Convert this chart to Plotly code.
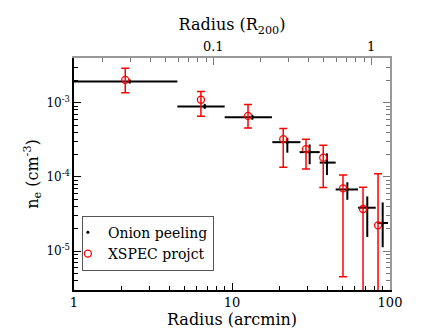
import numpy as np
import plotly.graph_objects as go

# radius in arcmin, density in cm^-3
onion_r = [2.25, 6.72, 13.45, 22.4, 31.0, 39.9, 53.7, 71.8, 89.9]
onion_r_lo = [1.0, 4.51, 8.99, 18.0, 26.8, 35.9, 45.3, 62.7, 83.1]
onion_r_hi = [4.51, 8.99, 17.9, 27.1, 35.9, 45.3, 62.7, 81.2, 97.1]
onion_ne = [1.93e-3, 8.92e-4, 6.36e-4, 2.94e-4, 2.16e-4, 1.56e-4, 6.78e-5, 3.85e-5, 2.40e-5]
onion_ne_lo = [1.81e-3, 8.26e-4, 5.89e-4, 2.12e-4, 1.48e-4, 1.06e-4, 4.92e-5, 1.55e-5, 1.13e-5]
onion_ne_hi = [2.06e-3, 9.63e-4, 6.87e-4, 3.37e-4, 2.74e-4, 2.08e-4, 8.49e-5, 5.47e-5, 4.54e-5]

xspec_r = [2.11, 6.36, 12.63, 21.1, 29.4, 37.8, 50.4, 67.5, 84.0]
xspec_ne = [2.03e-3, 1.097e-3, 6.64e-4, 3.23e-4, 2.37e-4, 1.82e-4, 7.0e-5, 3.70e-5, 2.23e-5]
xspec_ne_lo = [1.36e-3, 6.56e-4, 4.58e-4, 1.35e-4, 1.28e-4, 7.21e-5, 4.54e-6, 1e-9, 1e-9]
xspec_ne_hi = [2.92e-3, 1.42e-3, 9.49e-4, 4.49e-4, 3.23e-4, 2.68e-4, 1.06e-4, 7.28e-5, 1.10e-4]

R200_ARCMIN = 76.1

FONT = "DejaVu Serif"

o_r = np.array(onion_r)
o_n = np.array(onion_ne)
x_n = np.array(xspec_ne)

fig = go.Figure()

fig.add_trace(go.Scatter(
    x=onion_r, y=onion_ne, mode="markers", name="Onion peeling",
    marker=dict(color="black", size=3, symbol="circle"),
    error_x=dict(type="data", symmetric=False,
                 array=np.array(onion_r_hi) - o_r, arrayminus=o_r - np.array(onion_r_lo),
                 color="black", thickness=2, width=0),
    error_y=dict(type="data", symmetric=False,
                 array=np.array(onion_ne_hi) - o_n, arrayminus=o_n - np.array(onion_ne_lo),
                 color="black", thickness=2, width=0),
))

fig.add_trace(go.Scatter(
    x=xspec_r, y=xspec_ne, mode="markers", name="XSPEC projct",
    marker=dict(color="red", size=7, symbol="circle-open",
                line=dict(color="red", width=1.3)),
    error_y=dict(type="data", symmetric=False,
                 array=np.array(xspec_ne_hi) - x_n, arrayminus=x_n - np.array(xspec_ne_lo),
                 color="red", thickness=1.5, width=4),
))

# invisible trace so that the top (R200) axis is drawn
fig.add_trace(go.Scatter(
    x=list(o_r / R200_ARCMIN), y=onion_ne, xaxis="x2", mode="markers",
    marker=dict(opacity=0), showlegend=False, hoverinfo="skip",
))

# invisible trace for the right axis
fig.add_trace(go.Scatter(
    x=onion_r, y=onion_ne, yaxis="y2", mode="markers",
    marker=dict(opacity=0), showlegend=False, hoverinfo="skip",
))

minor_x = [m * 10 ** d for d in range(0, 2) for m in range(2, 10)]
minor_top = [m * 10 ** d for d in range(-2, 1) for m in range(2, 10)]
minor_y = [m * 10 ** d for d in range(-6, -2) for m in range(2, 10)]

yticks = [1e-5, 1e-4, 1e-3]
ytext = ["10<sup>-5</sup>", "10<sup>-4</sup>", "10<sup>-3</sup>"]

fig.update_layout(
    width=430, height=332,
    margin=dict(l=66, r=48, t=50, b=50),
    paper_bgcolor="white", plot_bgcolor="white",
    font=dict(family=FONT, color="black", size=13),
    showlegend=True,
    legend=dict(x=0.025, y=0.32, xanchor="left", yanchor="top",
                bordercolor="#555", borderwidth=1, bgcolor="white",
                font=dict(size=14, family=FONT), itemwidth=30,
                indentation=-15, tracegroupgap=0),
    xaxis=dict(type="log", range=[0, 2], showgrid=False, zeroline=False,
               showline=True, linecolor="black", linewidth=1.5,
               ticks="inside", ticklen=7, tickcolor="black",
               tickvals=[1, 10, 100], ticktext=["1", "10", "100"],
               tickfont=dict(size=13),
               minor=dict(tickvals=minor_x, ticks="inside", ticklen=4, tickcolor="black"),
               title=dict(text="Radius (arcmin)", font=dict(size=16), standoff=2)),
    xaxis2=dict(type="log", overlaying="x", side="top", anchor="y",
                range=[np.log10(1 / R200_ARCMIN), np.log10(100 / R200_ARCMIN)],
                showgrid=False, zeroline=False,
                showline=True, linecolor="#999", linewidth=1.5,
                ticks="inside", ticklen=7, tickcolor="#777",
                tickvals=[0.1, 1], ticktext=["0.1", "1"], tickfont=dict(size=13),
                minor=dict(tickvals=minor_top, ticks="inside", ticklen=4, tickcolor="#777"),
                title=dict(text="Radius (R<sub>200</sub>)", font=dict(size=16), standoff=4)),
    yaxis=dict(type="log", range=[np.log10(3e-6), np.log10(4e-3)],
               showgrid=False, zeroline=False,
               showline=True, linecolor="black", linewidth=1.5,
               ticks="inside", ticklen=7, tickcolor="black",
               tickvals=yticks, ticktext=ytext, tickfont=dict(size=12),
               minor=dict(tickvals=minor_y, ticks="inside", ticklen=4, tickcolor="black"),
               title=dict(text="n<sub>e</sub> (cm<sup>-3</sup>)", font=dict(size=16), standoff=4)),
    yaxis2=dict(type="log", overlaying="y", side="right", anchor="x",
                range=[np.log10(3e-6), np.log10(4e-3)],
                showgrid=False, zeroline=False,
                showline=True, linecolor="#999", linewidth=1.5,
                ticks="inside", ticklen=7, tickcolor="#777",
                tickvals=yticks, showticklabels=False,
                minor=dict(tickvals=minor_y, ticks="inside", ticklen=4, tickcolor="#777")),
)

fig.write_html("out.html")
